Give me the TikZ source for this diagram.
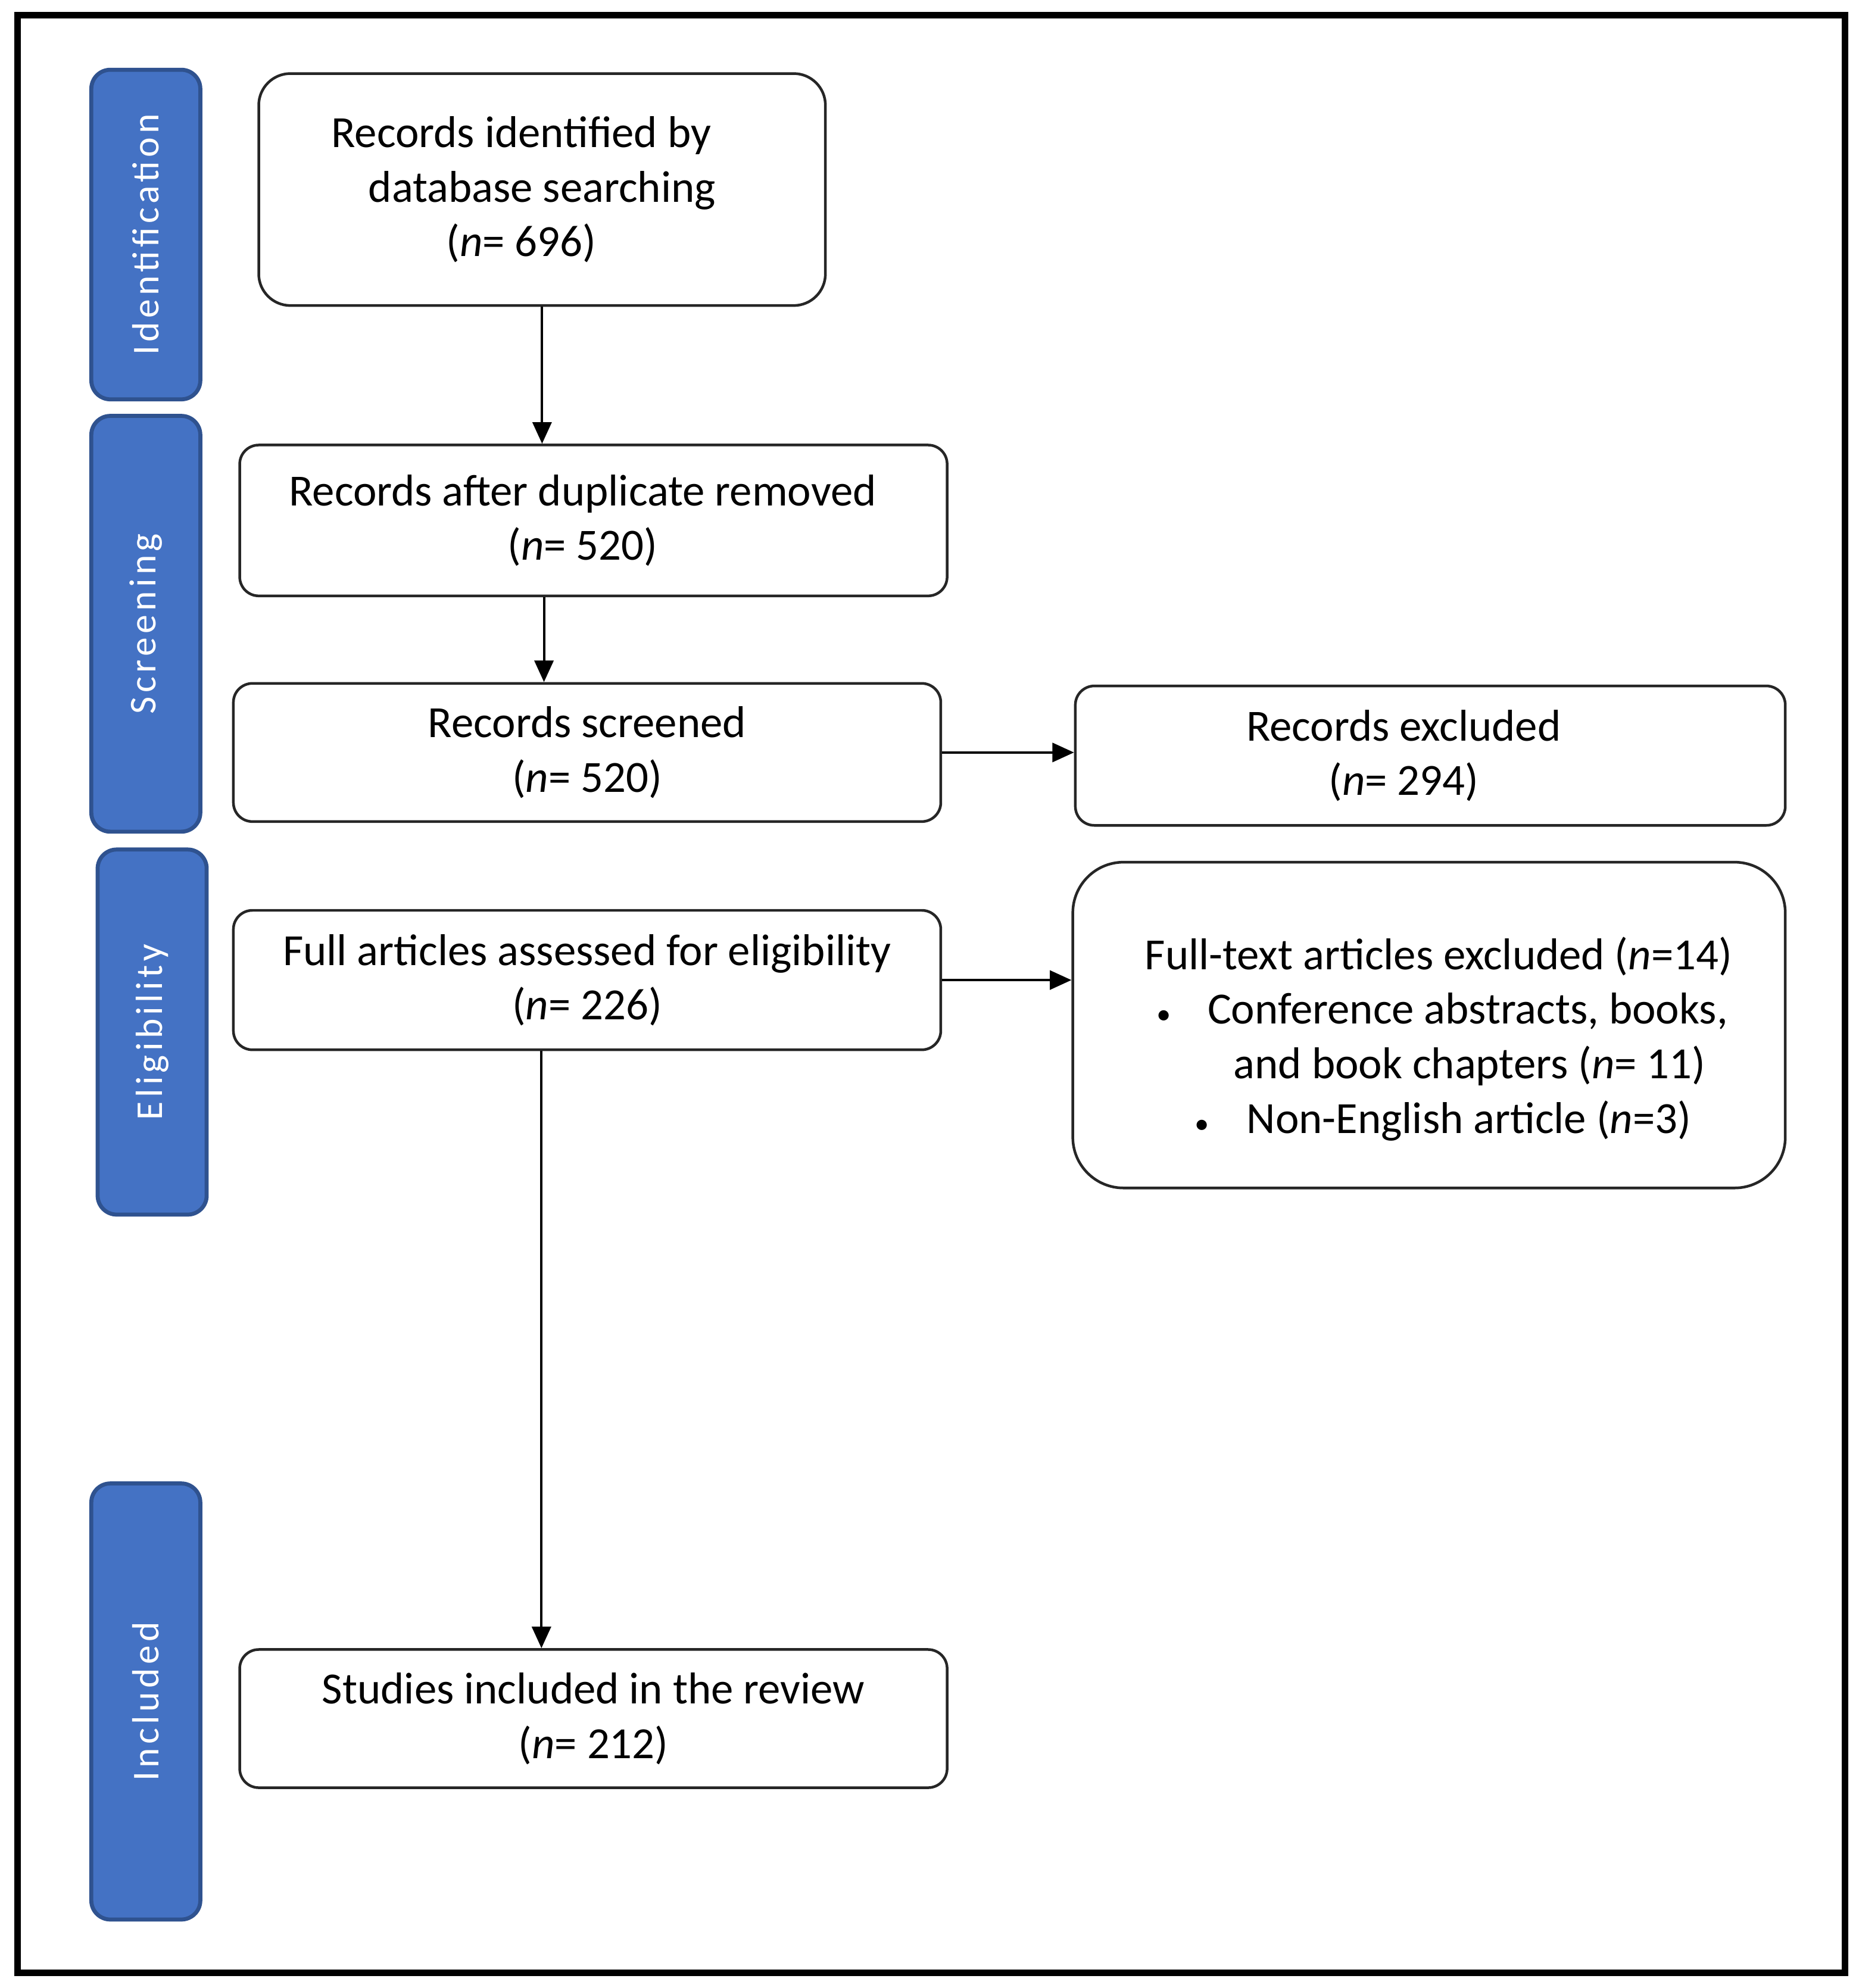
\documentclass[tikz,border=0pt]{standalone}
\usepackage{fontspec}
\setmainfont{Carlito}
\newfontfamily\barfont{Carlito}[LetterSpace=10]
\usepackage{tikz}
\usetikzlibrary{arrows.meta}

\definecolor{stageblue}{HTML}{4472C4}
\definecolor{stageedge}{HTML}{2F528F}

\begin{document}
\begin{tikzpicture}[x=0.02cm,y=-0.02cm,
    box/.style={draw=black!85,line width=1.2pt,rounded corners=0.3cm,align=center,inner sep=0pt,font=\fontsize{20}{24.5}\selectfont},
    stage/.style={draw=stageedge,line width=1.8pt,fill=stageblue,rounded corners=0.3cm,rotate=90,minimum height=1.72cm,text=white,font=\barfont\fontsize{17}{21}\selectfont},
    flow/.style={line width=1.1pt,-{Triangle[length=0.34cm,width=0.3cm]}}]
      \useasboundingbox (0,0) rectangle (1466,1568);
      \draw[line width=3pt] (14,12) rectangle (1455,1556);
      \node[stage,minimum width=5.2cm] (idbar) at (115,185) {Identification};
      \node[stage,minimum width=6.56cm] (scbar) at (115,492) {Screening};
      \node[stage,minimum width=5.76cm] (elbar) at (120,814) {Eligibility};
      \node[stage,minimum width=6.88cm] (inbar) at (115,1342) {Included};
      \node[box,rounded corners=0.5cm,minimum width=8.94cm,minimum height=3.66cm] (ident) at (427.5,149.5) {Records identified by\hspace*{0.66cm}\\database searching\hspace*{0.66cm}\\(\textit{n}= 696)\hspace*{0.66cm}};
      \node[box,minimum width=11.16cm,minimum height=2.38cm] (dedup) at (468,410.5) {Records after duplicate removed\hspace*{0.34cm}\\(\textit{n}= 520)\hspace*{0.34cm}};
      \node[box,minimum width=11.16cm,minimum height=2.18cm] (screen) at (463,593.5) {Records screened\\(\textit{n}= 520)};
      \node[box,minimum width=11.2cm,minimum height=2.2cm] (excl) at (1128,596) {Records excluded\hspace*{0.84cm}\\(\textit{n}= 294)\hspace*{0.84cm}};
      \node[box,minimum width=11.16cm,minimum height=2.2cm] (full) at (463,773) {Full articles assessed for eligibility\\(\textit{n}= 226)};
      \node[box,rounded corners=0.8cm,minimum width=11.24cm,minimum height=5.14cm] (fullexcl) at (1127,808.5) {\rule{0pt}{27pt}\hspace*{0.3cm}Full-text articles excluded (\textit{n}=14)\\
        \hspace*{0.42cm}\makebox[0.8cm][l]{\fontsize{13}{13}\selectfont\textbullet}Conference abstracts, books,\\
        \hspace*{1.28cm}and book chapters (\textit{n}= 11)\\
        \hspace*{0.44cm}\makebox[0.82cm][l]{\fontsize{13}{13}\selectfont\textbullet}Non-English article (\textit{n}=3)};
      \node[box,minimum width=11.16cm,minimum height=2.18cm] (incl) at (468,1355.5) {Studies included in the review\\(\textit{n}= 212)};
      \draw[flow] (ident.south) -- (ident.south |- dedup.north);
      \draw[flow] ([xshift=-0.78cm]dedup.south) -- ([xshift=-0.78cm]dedup.south |- screen.north);
      \draw[flow] (screen.east) -- (screen.east -| excl.west);
      \draw[flow] (full.east) -- (full.east -| fullexcl.west);
      \draw[flow] ([xshift=-0.72cm]full.south) -- ([xshift=-0.72cm]full.south |- incl.north);
\end{tikzpicture}
\end{document}
